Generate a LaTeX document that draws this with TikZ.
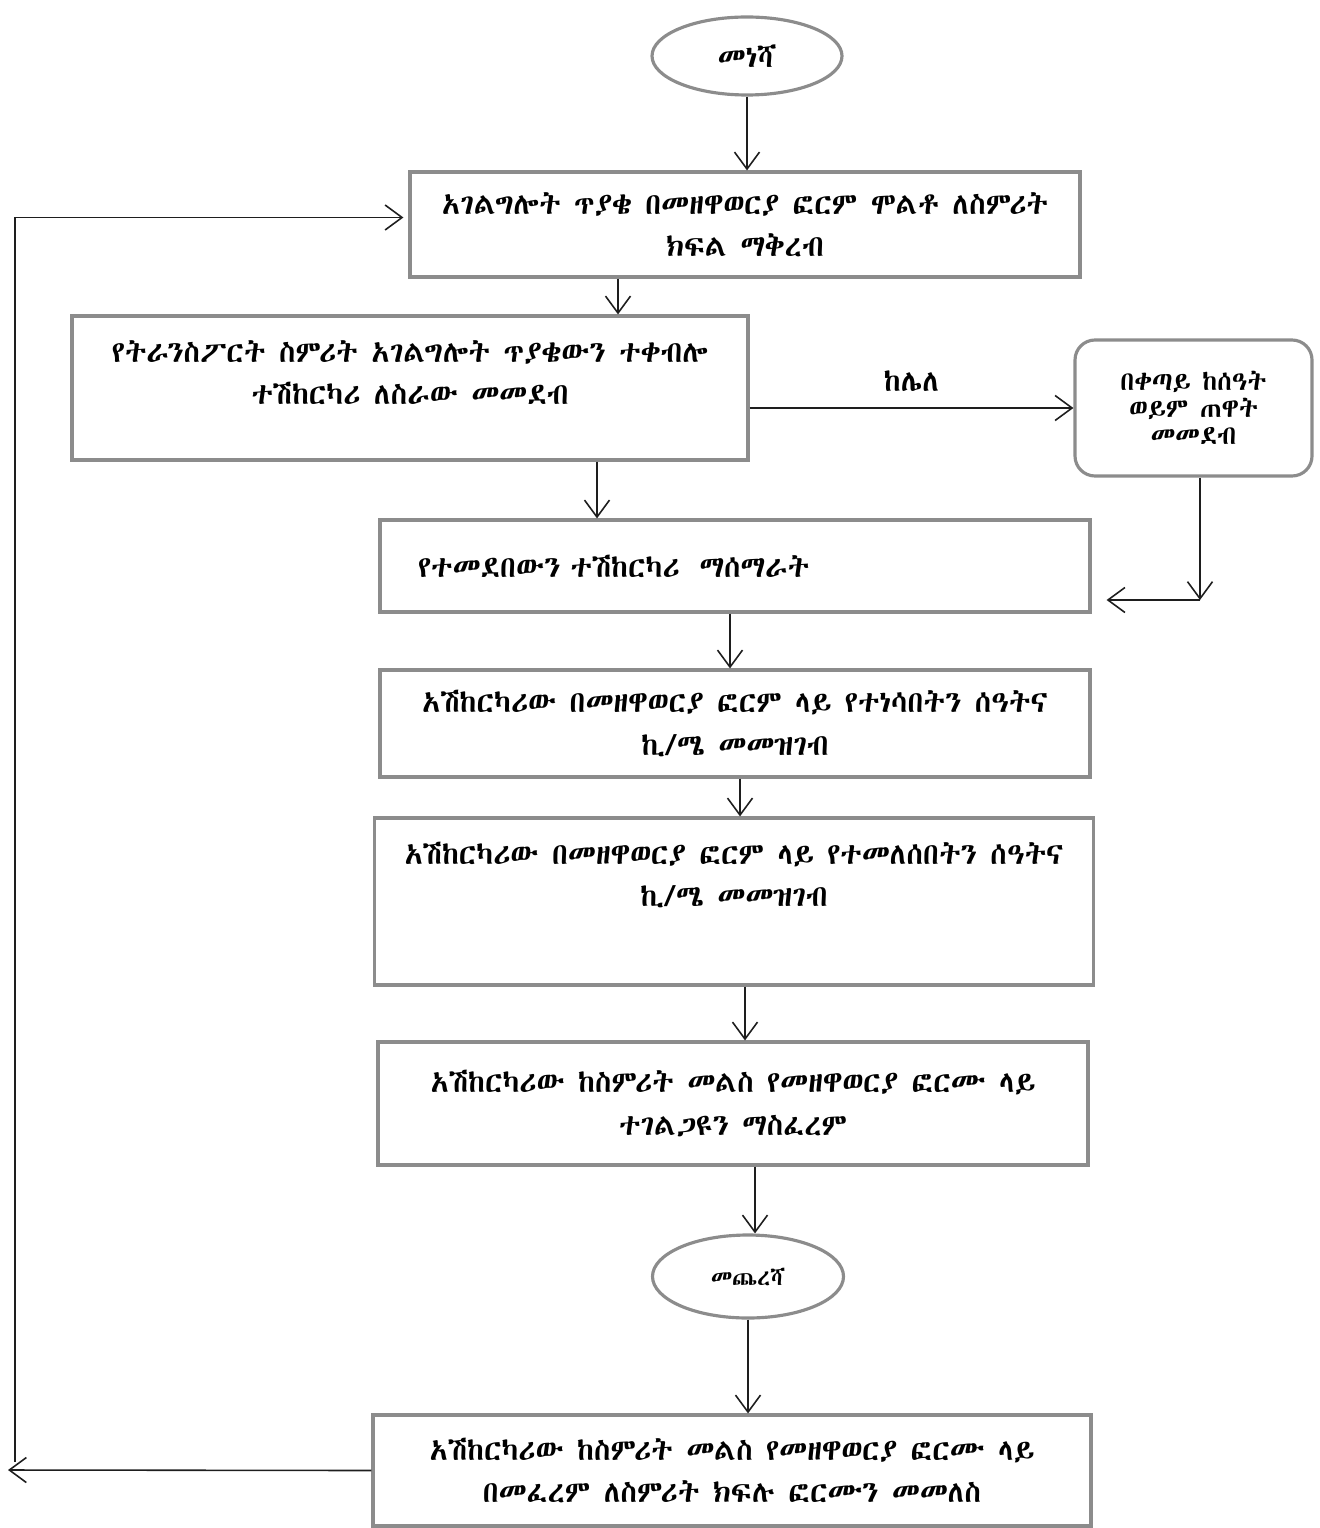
\documentclass[tikz,border=0pt]{standalone}
\usepackage{fontspec}
\usepackage{tikz}
\usetikzlibrary{arrows.meta,positioning,shapes.geometric}
\IfFontExistsTF{Abyssinica SIL}{\newfontfamily\ethfont{Abyssinica SIL}}{%
  \IfFontExistsTF{FreeSerif.otf}{\newfontfamily\ethfont{FreeSerif}[Extension=.otf]}{%
    \newfontfamily\ethfont{Noto Sans Ethiopic}}}
\definecolor{scanGray}{HTML}{8C8C8C}
\definecolor{inkBlack}{HTML}{1E1E1E}
\tikzset{
  flow/.style={-{Straight Barb[length=3.4mm,width=5mm]}, line width=0.9pt,
    draw=inkBlack},
  stepbox/.style={draw=scanGray, line width=1.8pt, align=center,
    inner xsep=6mm, font=\ethfont\fontsize{17}{24}\selectfont},
  waitbox/.style={stepbox, rounded corners=4mm, inner xsep=2mm,
    font=\ethfont\fontsize{15}{15.5}\selectfont},
  terminal/.style={ellipse, draw=scanGray, line width=1.8pt,
    minimum width=38mm, minimum height=15.6mm, inner sep=0pt},
  branch label/.style={font=\ethfont\fontsize{17}{20}\selectfont}
}
\begin{document}
\begin{tikzpicture}[x=0.2mm,y=-0.2mm]
  \useasboundingbox (0,0) rectangle (1319,1528);

  \node[terminal, font=\ethfont\fontsize{17}{20}\selectfont] (start) at (747,56) {መነሻ};
  \node[stepbox, minimum width=134mm, minimum height=21mm] (request) at (745,224.5)
    {አገልግሎት ጥያቄ በመዘዋወርያ ፎርም ሞልቶ ለስምሪት\\ክፍል ማቅረብ};
  \node[stepbox, minimum width=135.2mm, minimum height=28.8mm, text depth=6.2mm] (assign) at (410,388)
    {የትራንስፖርት ስምሪት አገልግሎት ጥያቄውን ተቀብሎ\\ተሽከርካሪ ለስራው መመደብ};
  \node[waitbox, minimum width=47.4mm, minimum height=27.2mm] (later) at (1193.5,408)
    {በቀጣይ ከሰዓት\\ወይም ጠዋት\\መመደብ};
  \node[stepbox, minimum width=142mm, minimum height=18.4mm, inner xsep=7.6mm,
    text width=126.8mm, align=left] (deploy) at (735,566)
    {የተመደበውን ተሽከርካሪ\ \ ማሰማራት};
  \node[stepbox, minimum width=142mm, minimum height=21.4mm] (outlog) at (735,723.5)
    {አሽከርካሪው በመዘዋወርያ ፎርም ላይ የተነሳበትን ሰዓትና\\ኪ/ሜ መመዝገብ};
  \node[stepbox, minimum width=142.4mm, minimum height=33.4mm, text depth=11mm] (inlog) at (734,901.5)
    {አሽከርካሪው በመዘዋወርያ ፎርም ላይ የተመለሰበትን ሰዓትና\\ኪ/ሜ መመዝገብ};
  \node[stepbox, minimum width=142mm, minimum height=24.6mm] (signoff) at (733,1103.5)
    {አሽከርካሪው ከስምሪት መልስ የመዘዋወርያ ፎርሙ ላይ\\ተገልጋዩን ማስፈረም};
  \node[terminal, minimum width=38.2mm, minimum height=16.6mm,
    font=\ethfont\fontsize{13}{15}\selectfont] (finish) at (748,1276.5) {መጨረሻ};
  \node[stepbox, minimum width=143.6mm, minimum height=22.2mm] (handback) at (732,1470.5)
    {አሽከርካሪው ከስምሪት መልስ የመዘዋወርያ ፎርሙ ላይ\\በመፈረም ለስምሪት ክፍሉ ፎርሙን መመለስ};

  \coordinate (waitturn) at (1200,600);
  \coordinate (loopend) at (8,1470);
  \coordinate (loopbase) at (15,1462);

  \draw[flow] (start.south) -- (start.south |- request.north);
  \draw[flow] (request.south -| 618,0) -- (assign.north -| 618,0);
  \draw[flow] (assign.east |- later.west) -- node[branch label, above=2mm] {ከሌለ} (later.west);
  \draw[flow] (later.south -| waitturn) -- (waitturn);
  \draw[flow, shorten >=3mm] (waitturn) -- (deploy.east |- waitturn);
  \draw[flow] (assign.south -| 597,0) -- (deploy.north -| 597,0);
  \draw[flow] (deploy.south -| 730,0) -- (outlog.north -| 730,0);
  \draw[flow] (outlog.south -| 740,0) -- (inlog.north -| 740,0);
  \draw[flow] (inlog.south -| 745,0) -- (signoff.north -| 745,0);
  \draw[flow] (signoff.south -| 755,0) -- (finish.north -| 755,0);
  \draw[flow] (finish.south) -- (finish.south |- handback.north);
  \draw[flow] (handback.west) -- (loopend);
  \draw[flow, shorten >=1mm] (loopbase) |- ([yshift=1.4mm]request.west);
\end{tikzpicture}
\end{document}
